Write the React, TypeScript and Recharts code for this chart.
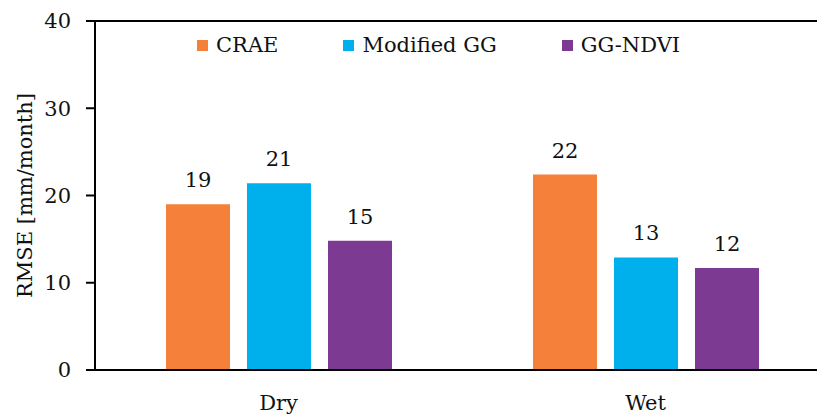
import React from "react";
import { BarChart, Bar, XAxis, YAxis, Legend, LabelList, ReferenceLine } from "recharts";

const seasons = ["Dry", "Wet"];
const crae = [19.0, 22.4];
const modifiedGG = [21.4, 12.9];
const ggNdvi = [14.8, 11.7];
const yTicks = [0, 10, 20, 30, 40];

const seriesInfo = [
  { key: "crae", name: "CRAE", color: "#F4803A" },
  { key: "modifiedGG", name: "Modified GG", color: "#00B0EC" },
  { key: "ggNdvi", name: "GG-NDVI", color: "#7C3A93" },
];

const data = seasons.map((season, i) => ({
  season,
  crae: crae[i],
  modifiedGG: modifiedGG[i],
  ggNdvi: ggNdvi[i],
}));

const FONT = "'DejaVu Serif', serif";
const FONT_SIZE = 21;
const INK = "#111";

const seriesOrder = (name: string) => seriesInfo.findIndex((s) => s.name === name);

const LegendContent = (props: any) => {
  const payload = [...(props.payload || [])].sort(
    (a: any, b: any) => seriesOrder(a.value) - seriesOrder(b.value)
  );
  return (
    <div style={{ display: "flex", alignItems: "center", fontFamily: FONT, fontSize: FONT_SIZE, color: INK, whiteSpace: "nowrap" }}>
      {payload.map((entry: any, i: number) => (
        <div key={i} style={{ display: "flex", alignItems: "center", marginRight: i < payload.length - 1 ? 65 : 0 }}>
          <span style={{ display: "inline-block", width: 11, height: 11, background: entry.color, marginRight: 8 }} />
          <span>{entry.value}</span>
        </div>
      ))}
    </div>
  );
};

const YLabel = (props: any) => {
  const vb = props.viewBox || {};
  const cy = vb.y + vb.height / 2;
  const cx = 25;
  return (
    <text
      x={cx}
      y={cy}
      transform={`rotate(-90, ${cx}, ${cy})`}
      textAnchor="middle"
      dominantBaseline="central"
      fontFamily={FONT}
      fontSize={FONT_SIZE}
      fill={INK}
    >
      RMSE [mm/month]
    </text>
  );
};

export default function App() {
  return (
    <div style={{ position: "absolute", left: 0, top: 0, width: 817, height: 416, overflow: "hidden", background: "#fff" }}>
      <BarChart
        width={850}
        height={416}
        data={data}
        margin={{ top: 21, right: 21, bottom: 0, left: 0 }}
        barSize={64}
        barGap={17}
      >
        <XAxis
          dataKey="season"
          height={46}
          tickLine={false}
          tickSize={0}
          tickMargin={25}
          axisLine={{ stroke: "#000", strokeWidth: 2 }}
          tick={{ fontFamily: FONT, fontSize: FONT_SIZE, fill: INK }}
        />
        <YAxis
          width={95}
          domain={[0, 40]}
          ticks={yTicks}
          tickSize={9}
          tickMargin={15}
          axisLine={{ stroke: "#000", strokeWidth: 2 }}
          tickLine={{ stroke: "#000", strokeWidth: 2 }}
          tick={{ fontFamily: FONT, fontSize: FONT_SIZE, fill: INK }}
          label={<YLabel />}
        />
        <ReferenceLine y={40} stroke="#000" strokeWidth={2} />
        <Legend
          verticalAlign="top"
          align="left"
          layout="horizontal"
          content={<LegendContent />}
          wrapperStyle={{ top: 33, left: 197, width: "auto", height: 0, overflow: "visible" }}
        />
        {seriesInfo.map((s) => (
          <Bar key={s.key} dataKey={s.key} name={s.name} fill={s.color} isAnimationActive={false}>
            <LabelList
              dataKey={s.key}
              position="top"
              offset={17}
              formatter={(v: any) => Math.round(Number(v))}
              style={{ fontFamily: FONT, fontSize: FONT_SIZE, fill: INK }}
            />
          </Bar>
        ))}
      </BarChart>
    </div>
  );
}
